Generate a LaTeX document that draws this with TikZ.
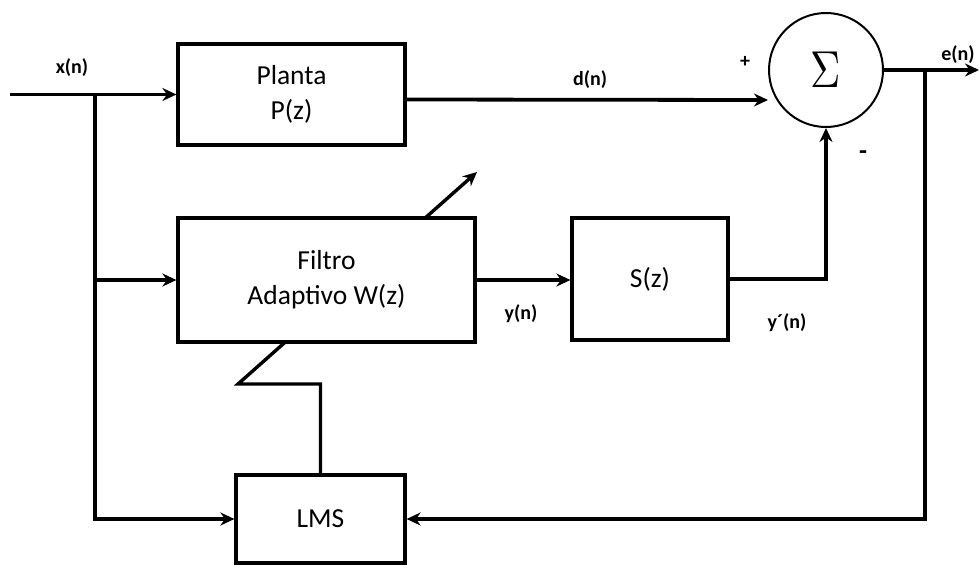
\documentclass[tikz,border=0pt]{standalone}
\usepackage{fontspec}
\setmainfont{Carlito}
\usetikzlibrary{arrows.meta,backgrounds,calc}
\begin{document}
\begin{tikzpicture}[x=1pt,y=-1pt,
  blk/.style={draw, line width=3.2pt, fill=white, inner sep=0pt,
    font=\fontsize{27.5}{35}\selectfont, align=center},
  wire/.style={line width=3.8pt},
  arr/.style={wire, -{Stealth[length=14pt,width=13pt]}},
  lbl/.style={font=\bfseries\fontsize{20}{20}\selectfont, inner sep=0pt}]
\useasboundingbox (0,0) rectangle (979,565);

% blocks
\node[blk, minimum width=227pt, minimum height=101pt] (planta) at (291.5,94.5) {Planta\\P(z)};
\node[blk, minimum width=297pt, minimum height=124pt] (filtro) at (326.5,280) {Filtro\\Adaptivo W(z)};
\node[blk, minimum width=156pt, minimum height=122pt] (S) at (650,279) {S(z)};
\node[blk, minimum width=169pt, minimum height=88pt] (lms) at (320.5,519) {LMS};
\node[circle, draw, line width=2pt, fill=white, minimum size=114pt, inner sep=0pt]
  (sum) at (826,70) {\scalebox{4.2}[5.2]{$\Sigma$}};

% junctions and free ends
\coordinate (in) at (10,94.5);
\coordinate (jx) at (95,94.5);
\coordinate (out) at (979,70);
\coordinate (je) at (925,70);
\coordinate (zig) at (238,384);
\coordinate (tip) at (477,172);

% adaptation arrow, passing behind the filter block
\begin{scope}[on background layer]
  \draw[arr, line width=3.4pt] (lms.north) -- (lms.north |- zig) -- (zig) -- (tip);
\end{scope}

% signal paths
\draw[arr] (in) -- (planta.west);
\draw[arr] (jx) |- (filtro.west);
\draw[arr] (jx) |- (lms.west);
\draw[arr] ([yshift=-5pt]planta.east) -- ([yshift=-30pt]sum.west);
\draw[arr] (sum.east) -- (out);
\draw[arr] (je) |- (lms.east);
\draw[arr] (filtro.east) -- (filtro.east -| S.west);
\draw[arr] (S.east) -| (sum.south);

% labels
\node[lbl] (lx) at (72,68) {x(n)};
\node[lbl] (ld) at (590,80) {d(n)};
\node[lbl] (lp) at (745,62) {+};
\node[lbl, font=\bfseries\fontsize{26}{26}\selectfont] (lm) at (863,155) {-};
\node[lbl] (le) at (958,55) {e(n)};
\node[lbl] (ly) at (521,314) {y(n)};
\node[lbl] (lyp) at (787,323) {y´(n)};
\end{tikzpicture}
\end{document}
